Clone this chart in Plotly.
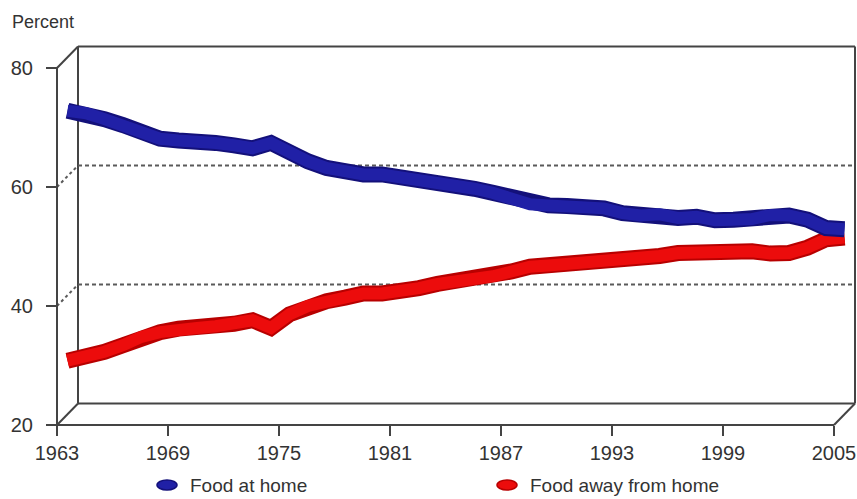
import plotly.graph_objects as go

# Share of total food expenditures (percent), 1963-2005
years = list(range(1963, 2006))
food_at_home = [
    71.0, 70.6, 69.6, 68.6, 67.2, 66.3, 66.0, 66.0, 65.6, 65.2,
    64.7, 65.6, 63.9, 62.5, 61.4, 60.8, 60.3, 60.3, 59.9, 59.3,
    58.6, 58.3, 57.9, 57.2, 56.3, 55.3, 55.1, 55.0, 54.9, 54.6,
    53.8, 53.4, 53.6, 53.0, 53.2, 52.6, 52.7, 52.8, 53.5, 53.4,
    52.7, 51.3, 51.1,
]
food_away_from_home = [
    29.0, 29.6, 30.5, 31.6, 33.0, 33.8, 34.4, 34.5, 34.8, 35.2,
    35.8, 34.5, 36.8, 38.2, 39.0, 39.6, 40.3, 40.3, 40.6, 41.2,
    41.9, 42.3, 42.6, 43.2, 44.0, 44.8, 45.0, 45.2, 45.3, 45.5,
    46.2, 46.4, 46.6, 47.1, 47.2, 47.4, 47.3, 47.4, 47.0, 47.1,
    48.0, 49.4, 49.7,
]
x_ticks = [1963, 1969, 1975, 1981, 1987, 1993, 1999, 2005]
y_ticks = [20, 40, 60, 80]
y_grid = [40, 60]
series_names = ["Food at home", "Food away from home"]

# ---- pseudo-3D geometry (pixels) ----
W, H = 857, 499
PX_YR = 18.5          # pixels per year
PX_PCT = 5.95         # pixels per percentage point
DEPTH_X, DEPTH_Y = 21.0, 21.5   # offset of the back wall from the front axes
FRONT_LEFT, FRONT_BOTTOM = 57.0, 425.0
L, R, T, B = 52, 857, 42, 431   # plot area

hx = DEPTH_X / 2 / PX_YR    # half depth in data units (lines sit mid-depth)
hy = DEPTH_Y / 2 / PX_PCT

def data_x(px):
    return x_ticks[0] - hx + (px - FRONT_LEFT) / PX_YR

def data_y(py):
    return y_ticks[0] - hy + (FRONT_BOTTOM - py) / PX_PCT

x_range = [data_x(L), data_x(R)]
y_range = [data_y(B), data_y(T)]

def front(yr, v):
    return yr - hx, v - hy

def back(yr, v):
    return yr + hx, v + hy

FRAME = "#444444"
GRID = "#5a5a5a"
TEXT = "#333333"
FONT = "Liberation Sans, Arial, sans-serif"

shapes = []

def seg(p0, p1, color=FRAME, width=2, dash=None):
    line = dict(color=color, width=width)
    if dash:
        line["dash"] = dash
    shapes.append(dict(type="line", xref="x", yref="y", layer="below",
                       x0=p0[0], y0=p0[1], x1=p1[0], y1=p1[1], line=line))

y0, y1 = y_ticks[0], y_ticks[-1]
xa, xb = x_ticks[0], x_ticks[-1]

# back wall
seg(back(xa, y0), back(xa, y1))
seg(back(xa, y1), back(xb, y1))
seg(back(xb, y1), back(xb, y0))
seg(back(xa, y0), back(xb, y0))
# dotted gridlines on the back wall and along the side wall
for g in y_grid:
    seg(back(xa, g), back(xb, g), color=GRID, width=2, dash="4px,3px")
    seg(front(xa, g), back(xa, g), color=GRID, width=2, dash="3px,3px")
# depth edges
seg(front(xa, y1), back(xa, y1))
seg(front(xa, y0), back(xa, y0))
seg(front(xb, y0), back(xb, y0))
# front axes
seg(front(xa, y0), front(xa, y1))
seg(front(xa, y0), front(xb, y0))

fig = go.Figure()

styles = {
    "Food away from home": ("#b80000", "#ec0c0c"),
    "Food at home": ("#13107a", "#2020a6"),
}
for name, vals in [("Food away from home", food_away_from_home),
                   ("Food at home", food_at_home)]:
    edge, fill = styles[name]
    fig.add_trace(go.Scatter(x=years, y=vals, mode="lines", name=name,
                             line=dict(color=edge, width=16),
                             showlegend=False, hoverinfo="skip"))
    fig.add_trace(go.Scatter(x=years, y=vals, mode="lines", name=name,
                             line=dict(color=fill, width=12),
                             showlegend=False))

# legend drawn below the axis
def px_paper(px, py):
    return (px - L) / (R - L), (B - py) / (B - T)

LEGEND_Y = 485
annotations = []
legend_items = [(157, 188, styles["Food at home"]),
                (497, 528, styles["Food away from home"])]
for (mx, tx, (edge, fill)), name in zip(legend_items, series_names):
    ax0, ay0 = px_paper(mx, LEGEND_Y + 5)
    ax1, ay1 = px_paper(mx + 20, LEGEND_Y - 5)
    shapes.append(dict(type="circle", xref="paper", yref="paper",
                       x0=ax0, y0=ay0, x1=ax1, y1=ay1,
                       fillcolor=fill, line=dict(color=edge, width=1.5)))
    tx_p, ty_p = px_paper(tx, LEGEND_Y)
    annotations.append(dict(text=name, xref="paper", yref="paper",
                            x=tx_p, y=ty_p, xanchor="left", yanchor="middle",
                            showarrow=False,
                            font=dict(family=FONT, size=19, color=TEXT)))

px_, py_ = px_paper(10, 22)
annotations.append(dict(text="Percent", xref="paper", yref="paper",
                        x=px_, y=py_, xanchor="left", yanchor="middle",
                        showarrow=False,
                        font=dict(family=FONT, size=18, color=TEXT)))

fig.update_layout(
    width=W, height=H,
    margin=dict(l=L, r=W - R, t=T, b=H - B),
    paper_bgcolor="white", plot_bgcolor="white",
    showlegend=False,
    shapes=shapes,
    annotations=annotations,
    font=dict(family=FONT, size=20, color=TEXT),
    xaxis=dict(range=x_range, showgrid=False, zeroline=False, showline=False,
               tickvals=[t - hx for t in x_ticks],
               ticktext=[str(t) for t in x_ticks],
               ticks="outside", ticklen=10, tickwidth=2, tickcolor=FRAME,
               anchor="free", position=(B - FRONT_BOTTOM) / (B - T),
               ticklabelstandoff=0, fixedrange=True),
    yaxis=dict(range=y_range, showgrid=False, zeroline=False, showline=False,
               tickvals=[v - hy for v in y_ticks],
               ticktext=[str(v) for v in y_ticks],
               ticks="outside", ticklen=11, tickwidth=2, tickcolor=FRAME,
               anchor="free", position=(FRONT_LEFT - L) / (R - L),
               ticklabelstandoff=9, fixedrange=True),
)

fig.write_html("out.html")
